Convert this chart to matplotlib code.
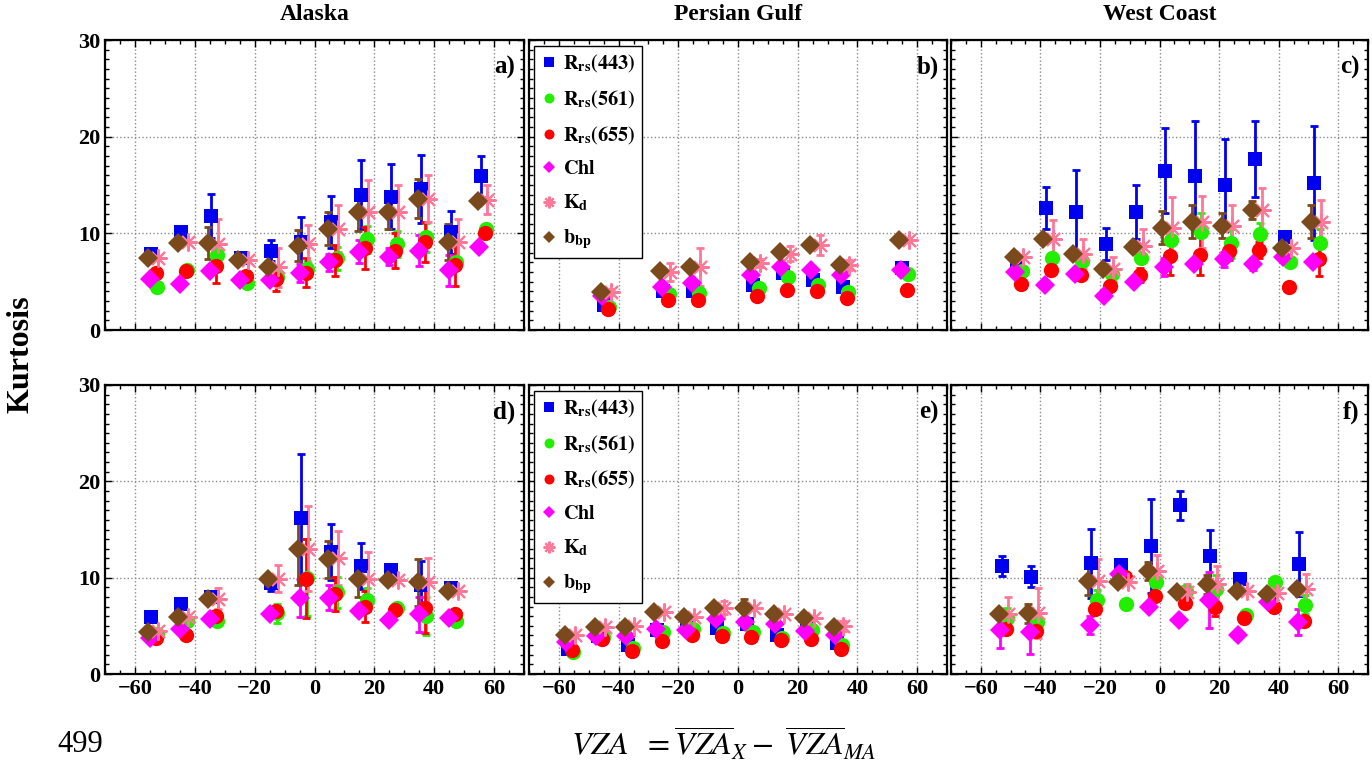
import numpy as np
import matplotlib
matplotlib.use("Agg")
import matplotlib.pyplot as plt
from matplotlib.ticker import MultipleLocator

plt.rcParams['font.family'] = 'serif'
plt.rcParams['font.serif'] = ['Liberation Serif', 'DejaVu Serif']
plt.rcParams['mathtext.fontset'] = 'stix'

# VZA bin centres per panel
xa = [-55, -45, -35, -25, -15, -5, 5, 15, 25, 35, 45, 55]
xb = [-45.5, -25.5, -15.5, 4.5, 14.5, 24.5, 34.5, 54.5]
xc = [-48.5, -38.5, -28.5, -18.5, -8.5, 1.5, 11.5, 21.5, 31.5, 41.5, 51.5]
xd = [-55, -45, -35, -15, -5, 5, 15, 25, 35, 45]
xe = [-57.5, -47.5, -37.5, -27.5, -17.5, -7.5, 2.5, 12.5, 22.5, 32.5]
xf = [-53.5, -43.5, -23.5, -13.5, -3.5, 6.5, 16.5, 26.5, 36.5, 46.5]

# a) Alaska, top row
a_443 = [7.9, 10.1, 11.8, 7.4, 8.2, 9.1, 11.2, 14.0, 13.8, 14.6, 10.1, 15.9]
a_443_err = [0, 0, 2.3, 0, 1.1, 2.6, 2.7, 3.6, 3.4, 3.5, 2.2, 2.1]
a_561 = [4.5, 6.2, 7.8, 4.9, 5.5, 6.3, 7.4, 9.4, 8.9, 9.6, 7.0, 10.4]
a_561_err = [0, 0, 0, 0, 0, 0.8, 1.2, 1.4, 1.3, 1.5, 0, 0]
a_655 = [5.9, 6.1, 6.6, 5.6, 5.3, 5.9, 7.2, 8.5, 8.2, 9.1, 6.7, 10.0]
a_655_err = [0, 0, 1.7, 0, 1.3, 1.5, 1.6, 2.2, 1.8, 2.1, 2.1, 0]
a_chl = [5.3, 4.8, 6.1, 5.2, 5.2, 5.9, 7.0, 8.1, 7.6, 8.2, 6.2, 8.6]
a_chl_err = [0, 0, 0, 0, 0, 0.9, 0.9, 1.2, 0.9, 1.6, 1.6, 0.4]
a_kd = [7.5, 9.1, 8.9, 7.2, 6.5, 8.9, 10.5, 12.2, 12.2, 13.6, 9.1, 13.5]
a_kd_err = [0, 0, 2.6, 0, 2.0, 2.0, 2.4, 3.3, 2.8, 2.4, 2.4, 1.5]
a_bbp = [7.5, 9.0, 9.0, 7.2, 6.5, 8.7, 10.5, 12.2, 12.2, 13.6, 9.1, 13.3]
a_bbp_err = [0, 0, 1.7, 0, 1.3, 1.6, 1.7, 2.0, 1.8, 2.0, 1.9, 0]

# b) Persian Gulf, top row
b_443 = [2.6, 4.0, 4.0, 4.7, 5.9, 5.2, 4.4, 6.4]
b_443_err = [0, 0, 0, 0, 0, 0, 0, 0]
b_561 = [2.4, 3.7, 3.8, 4.3, 5.5, 4.7, 3.9, 5.8]
b_561_err = [0, 0, 0, 0, 0, 0, 0, 0]
b_655 = [2.2, 3.1, 3.1, 3.5, 4.1, 4.0, 3.3, 4.1]
b_655_err = [0, 0, 0, 0, 0, 0, 0, 0]
b_chl = [3.5, 4.4, 4.9, 5.7, 6.5, 6.2, 5.7, 6.2]
b_chl_err = [0, 0, 0, 0, 0, 0, 0, 0]
b_kd = [3.9, 6.0, 6.5, 6.9, 7.9, 8.8, 6.7, 9.3]
b_kd_err = [0.3, 0.95, 1.95, 0.4, 0.8, 1.0, 0.5, 0]
b_bbp = [3.9, 6.1, 6.5, 7.0, 8.1, 8.8, 6.7, 9.3]
b_bbp_err = [0, 0, 0, 0, 0, 0, 0, 0]

# c) West Coast, top row
c_443 = [7.1, 12.6, 12.2, 8.9, 12.2, 16.5, 15.9, 15.0, 17.7, 9.6, 15.2]
c_443_err = [0, 2.2, 4.4, 1.7, 2.8, 4.4, 5.7, 4.8, 3.9, 0, 5.9]
c_561 = [6.1, 7.5, 7.1, 5.8, 7.5, 9.3, 10.1, 9.0, 9.9, 7.0, 9.0]
c_561_err = [0, 0, 0, 0, 0, 1.2, 2.0, 1.5, 1.2, 0, 1.5]
c_655 = [4.8, 6.2, 5.7, 4.6, 5.7, 7.7, 7.8, 8.2, 8.3, 4.4, 7.3]
c_655_err = [0, 0, 0, 0, 0.7, 2.0, 2.1, 1.0, 0.8, 0, 1.7]
c_chl = [6.0, 4.7, 5.8, 3.5, 5.0, 6.5, 6.8, 7.3, 6.8, 7.6, 7.0]
c_chl_err = [0, 0, 0, 0, 0, 0.9, 0, 0.8, 0.6, 0, 0]
c_kd = [7.6, 9.4, 7.9, 6.3, 8.7, 10.6, 11.2, 10.8, 12.4, 8.5, 11.2]
c_kd_err = [0, 2.0, 1.5, 1.3, 1.7, 3.2, 2.7, 2.1, 2.25, 0, 2.2]
c_bbp = [7.6, 9.4, 7.9, 6.3, 8.6, 10.6, 11.2, 10.8, 12.4, 8.5, 11.2]
c_bbp_err = [0, 0, 0, 0, 0, 1.75, 1.7, 1.3, 0.9, 0, 1.7]

# d) Alaska, bottom row
d_443 = [5.9, 7.3, 8.0, 9.4, 16.2, 12.7, 11.2, 10.8, 9.2, 8.9]
d_443_err = [0, 0, 0, 0.8, 6.6, 2.9, 2.4, 0, 2.5, 0]
d_561 = [4.2, 5.5, 5.5, 6.3, 10.0, 8.5, 7.7, 6.8, 6.0, 5.5]
d_561_err = [0, 0, 0, 1.0, 4.0, 1.6, 1.2, 0, 2.0, 0]
d_655 = [3.7, 4.1, 6.0, 6.5, 9.9, 8.3, 7.0, 6.6, 6.8, 6.2]
d_655_err = [0, 0, 0, 0, 4.1, 1.8, 1.6, 0, 2.5, 0]
d_chl = [3.7, 4.7, 5.7, 6.2, 7.9, 7.9, 6.5, 5.6, 6.2, 5.8]
d_chl_err = [0, 0, 0, 0, 2.0, 1.3, 0, 0, 1.8, 0]
d_kd = [4.5, 5.9, 7.8, 9.9, 13.0, 12.0, 9.9, 9.8, 9.6, 8.6]
d_kd_err = [0, 0, 1.1, 1.4, 4.4, 2.8, 2.8, 0, 2.4, 0]
d_bbp = [4.4, 5.9, 7.8, 9.9, 13.0, 11.9, 9.9, 9.8, 9.5, 8.6]
d_bbp_err = [0, 0, 0, 0, 3.8, 1.95, 1.9, 0, 2.4, 0]

# e) Persian Gulf, bottom row
e_443 = [2.6, 3.9, 3.0, 4.6, 4.9, 4.8, 5.2, 4.1, 5.1, 3.2]
e_443_err = [0, 0, 0, 0, 0, 0, 0, 0, 0, 0]
e_561 = [2.3, 3.8, 2.7, 4.4, 4.7, 4.3, 4.4, 3.7, 4.6, 3.0]
e_561_err = [0, 0, 0, 0, 0, 0, 0, 0, 0, 0]
e_655 = [2.5, 3.6, 2.4, 3.4, 4.0, 3.9, 3.8, 3.5, 3.6, 2.6]
e_655_err = [0, 0, 0, 0, 0, 0.4, 0, 0, 0, 0]
e_chl = [3.3, 3.9, 3.9, 4.7, 4.6, 5.7, 5.4, 5.2, 4.5, 4.1]
e_chl_err = [0, 0, 0, 0, 0, 0, 0, 0, 0, 0]
e_kd = [4.1, 4.9, 5.0, 6.4, 5.9, 6.9, 6.8, 6.2, 5.8, 5.0]
e_kd_err = [0, 0, 0, 0, 0, 0.7, 0, 0, 0, 0.5]
e_bbp = [4.1, 4.9, 4.9, 6.4, 5.9, 6.9, 6.8, 6.2, 5.8, 4.9]
e_bbp_err = [0, 0, 0, 0, 0, 0, 1.0, 0, 0, 0]

# f) West Coast, bottom row
f_443 = [11.2, 10.1, 11.5, 11.3, 13.3, 17.5, 12.3, 9.9, 8.1, 11.4]
f_443_err = [1.0, 1.1, 3.6, 0, 4.85, 1.5, 2.7, 0, 0, 3.35]
f_561 = [5.8, 5.4, 7.7, 7.3, 9.5, 8.6, 8.8, 6.1, 9.5, 7.2]
f_561_err = [1.0, 0, 1.0, 0, 1.0, 0, 1.5, 0, 0, 1.0]
f_655 = [4.7, 4.5, 6.7, 10.1, 8.1, 7.4, 7.0, 5.8, 7.0, 5.5]
f_655_err = [0, 0, 0, 0, 0, 0, 1.0, 0, 0, 0]
f_chl = [4.6, 4.4, 5.1, 10.4, 7.0, 5.6, 7.7, 4.1, 7.5, 5.4]
f_chl_err = [1.9, 2.3, 0.9, 0, 0, 0, 2.9, 0, 0, 1.3]
f_kd = [6.2, 6.3, 9.7, 9.5, 10.7, 8.5, 9.3, 8.6, 8.4, 8.8]
f_kd_err = [1.8, 2.6, 2.2, 0, 1.7, 0.8, 1.9, 0, 0, 1.6]
f_bbp = [6.2, 6.3, 9.7, 9.5, 10.7, 8.5, 9.3, 8.6, 8.3, 8.8]
f_bbp_err = [0, 1.0, 1.5, 0, 0.9, 0, 1.0, 0, 0, 0]

regions = ['Alaska', 'Persian Gulf', 'West Coast']
panel_tags = ['a)', 'b)', 'c)', 'd)', 'e)', 'f)']

# label, marker, colour, size, x shift inside a bin
styles = [
    (r'$\mathbf{R}_{\mathbf{rs}}\mathbf{(443)}$', 's', '#0000f0', 10, 0.5),
    (r'$\mathbf{R}_{\mathbf{rs}}\mathbf{(561)}$', 'o', '#22ee00', 11, 2.4),
    (r'$\mathbf{R}_{\mathbf{rs}}\mathbf{(655)}$', 'o', '#ff0000', 11, 2.0),
    (r'$\mathbf{Chl}$', 'D', '#ff00ff', 10, 0.0),
    (r'$\mathbf{K}_{\mathbf{d}}$', (8, 2, 0), '#ff7799', 13, 2.8),
    (r'$\mathbf{b}_{\mathbf{bp}}$', 'D', '#7b4a1c', 10, -0.5),
]
draw_order = [0, 1, 2, 3, 5, 4]

panels = [
    (xa, [a_443, a_561, a_655, a_chl, a_kd, a_bbp],
     [a_443_err, a_561_err, a_655_err, a_chl_err, a_kd_err, a_bbp_err]),
    (xb, [b_443, b_561, b_655, b_chl, b_kd, b_bbp],
     [b_443_err, b_561_err, b_655_err, b_chl_err, b_kd_err, b_bbp_err]),
    (xc, [c_443, c_561, c_655, c_chl, c_kd, c_bbp],
     [c_443_err, c_561_err, c_655_err, c_chl_err, c_kd_err, c_bbp_err]),
    (xd, [d_443, d_561, d_655, d_chl, d_kd, d_bbp],
     [d_443_err, d_561_err, d_655_err, d_chl_err, d_kd_err, d_bbp_err]),
    (xe, [e_443, e_561, e_655, e_chl, e_kd, e_bbp],
     [e_443_err, e_561_err, e_655_err, e_chl_err, e_kd_err, e_bbp_err]),
    (xf, [f_443, f_561, f_655, f_chl, f_kd, f_bbp],
     [f_443_err, f_561_err, f_655_err, f_chl_err, f_kd_err, f_bbp_err]),
]

W, H = 1372, 763
fig = plt.figure(figsize=(W / 100, H / 100), dpi=100)

col_px = [(105, 524), (529, 947), (951, 1368)]
row_px = [(40, 330), (385, 674)]


def draw_panel(ax, x, vals, errs):
    x = np.asarray(x, dtype=float)
    handles = []
    for k in draw_order:
        label, mk, col, ms, dx = styles[k]
        y = np.asarray(vals[k], dtype=float)
        e = np.asarray(errs[k], dtype=float)
        has = e > 0
        if has.any():
            ax.errorbar(x[has] + dx, y[has], yerr=e[has], fmt='none',
                        ecolor=col, elinewidth=2, capsize=3, capthick=2,
                        zorder=2 + k * 0.1)
        mew = 1.5 if k == 4 else 0
        ln, = ax.plot(x + dx, y, linestyle='none', marker=mk, ms=ms,
                      color=col, mec=col, mew=mew, label=label,
                      zorder=3 + k * 0.1)
        handles.append((k, ln))
    handles.sort(key=lambda t: t[0])
    return [h for _, h in handles]


for i, (x, vals, errs) in enumerate(panels):
    r, c = divmod(i, 3)
    left, right = col_px[c]
    top, bot = row_px[r]
    ax = fig.add_axes([left / W, 1 - bot / H, (right - left) / W, (bot - top) / H])
    hs = draw_panel(ax, x, vals, errs)

    ax.set_xlim(-70, 70)
    ax.set_ylim(0, 30)
    ax.xaxis.set_major_locator(MultipleLocator(20))
    ax.xaxis.set_minor_locator(MultipleLocator(5))
    ax.yaxis.set_major_locator(MultipleLocator(10))
    ax.yaxis.set_minor_locator(MultipleLocator(1))
    ax.grid(True, which='major', linestyle=':', color='#8c8c8c', lw=1)
    ax.tick_params(which='both', direction='in', top=True, right=True,
                   labelsize=16, width=1)
    ax.tick_params(which='major', length=5)
    ax.tick_params(which='minor', length=3)
    for s in ax.spines.values():
        s.set_linewidth(1.6)
    if c != 0:
        ax.set_yticklabels([])
    if r == 0:
        ax.set_xticklabels([])
    else:
        ax.set_xticklabels([str(int(t)).replace('-', '\u2212')
                            for t in ax.get_xticks()])
    for lab in ax.get_xticklabels() + ax.get_yticklabels():
        lab.set_fontweight('bold')

    ax.text(0.98, 0.945, panel_tags[i], transform=ax.transAxes,
            ha='right', va='top', fontsize=18, fontweight='bold')

    if c == 1:
        leg = ax.legend(handles=hs, loc='upper left',
                        bbox_to_anchor=(0.013, 0.98), borderaxespad=0,
                        fontsize=14.5, markerscale=0.65, handlelength=0.7,
                        handletextpad=0.35, labelspacing=0.68,
                        borderpad=0.35, fancybox=False, framealpha=1)
        leg.get_frame().set_edgecolor('black')
        leg.get_frame().set_linewidth(1.0)

    if r == 0:
        fig.text((left + right) / 2 / W, 1 - 14 / H, regions[c],
                 ha='center', va='center', fontsize=17, fontweight='bold')

fig.text(21 / W, 1 - 354 / H, 'Kurtosis', rotation=90, ha='center',
         va='center', fontsize=23, fontweight='bold')
fig.text(80 / W, 1 - 745 / H, '499', ha='center', va='center',
         fontsize=22)
fig.text(724 / W, 1 - 744 / H,
         r'$VZA\ \ =\overline{VZA}_X-\ \overline{VZA}_{MA}$',
         ha='center', va='center', fontsize=23)

fig.savefig('out.png', dpi=100)
